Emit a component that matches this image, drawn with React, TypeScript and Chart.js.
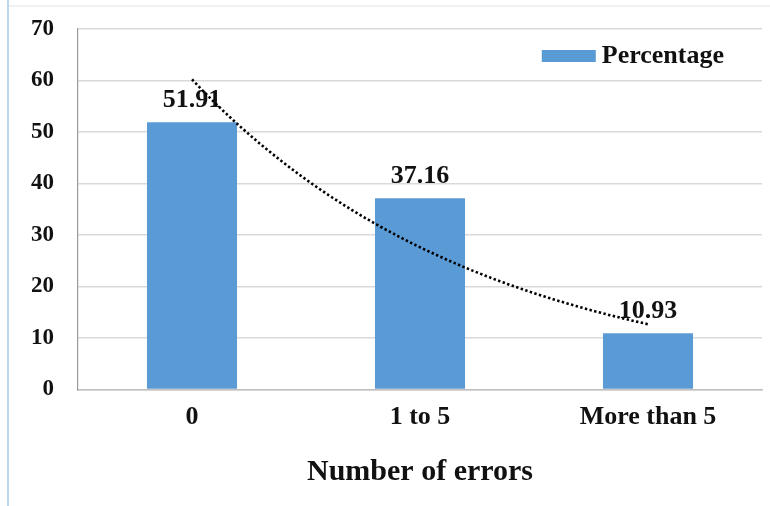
import React, { useEffect, useRef } from "react";
import { Chart, registerables } from "chart.js";

Chart.register(...registerables);

const categories: string[] = ["0", "1 to 5", "More than 5"];
const percentages: number[] = [51.91, 37.16, 10.93];
const seriesLabel = "Percentage";
const yTicks: number[] = [0, 10, 20, 30, 40, 50, 60, 70];
const xTitle = "Number of errors";

const FONT = "'Liberation Serif', 'Times New Roman', serif";
const BAR_COLOR = "#5B9BD5";

const backgroundPlugin = {
  id: "bgFrame",
  beforeDraw(chart: any) {
    const ctx = chart.ctx;
    ctx.save();
    ctx.fillStyle = "#ffffff";
    ctx.fillRect(0, 0, chart.width, chart.height);
    ctx.strokeStyle = "#EDEDED";
    ctx.lineWidth = 1.5;
    ctx.beginPath();
    ctx.moveTo(9, 6);
    ctx.lineTo(chart.width, 6);
    ctx.stroke();
    ctx.strokeStyle = "#BDD7EE";
    ctx.lineWidth = 2;
    ctx.beginPath();
    ctx.moveTo(8, 0);
    ctx.lineTo(8, chart.height);
    ctx.stroke();
    ctx.restore();
  },
};

const labelsPlugin = {
  id: "barValueLabels",
  afterDatasetsDraw(chart: any) {
    const ctx = chart.ctx;
    const meta = chart.getDatasetMeta(0);
    const data = chart.data.datasets[0].data as number[];
    ctx.save();
    ctx.font = `bold 26px ${FONT}`;
    ctx.fillStyle = "#111111";
    ctx.textAlign = "center";
    ctx.textBaseline = "alphabetic";
    meta.data.forEach((bar: any, i: number) => {
      ctx.fillText(data[i].toFixed(2), bar.x, bar.y - 15);
    });
    ctx.restore();
  },
};

const trendPlugin = {
  id: "expTrend",
  afterDraw(chart: any) {
    const data = chart.data.datasets[0].data as number[];
    const n = data.length;
    // exponential least-squares fit y = a * exp(b * x), x = 1..n
    let sx = 0, sy = 0, sxx = 0, sxy = 0;
    data.forEach((v, i) => {
      const x = i + 1;
      const ly = Math.log(v);
      sx += x; sy += ly; sxx += x * x; sxy += x * ly;
    });
    const b = (n * sxy - sx * sy) / (n * sxx - sx * sx);
    const lnA = (sy - b * sx) / n;
    const xs = chart.scales.x;
    const ys = chart.scales.y;
    const ctx = chart.ctx;
    ctx.save();
    ctx.strokeStyle = "#000000";
    ctx.lineWidth = 2.6;
    ctx.lineCap = "butt";
    ctx.setLineDash([2.4, 2.4]);
    ctx.beginPath();
    const steps = 120;
    for (let s = 0; s <= steps; s++) {
      const t = (s / steps) * (n - 1);
      const v = Math.exp(lnA + b * (t + 1));
      const px = xs.getPixelForValue(t);
      const py = ys.getPixelForValue(v);
      if (s === 0) ctx.moveTo(px, py);
      else ctx.lineTo(px, py);
    }
    ctx.stroke();
    ctx.restore();
  },
};

const legendPlugin = {
  id: "innerLegend",
  afterDraw(chart: any) {
    const ctx = chart.ctx;
    const area = chart.chartArea;
    const ds = chart.data.datasets[0];
    ctx.save();
    ctx.font = `bold 26px ${FONT}`;
    ctx.textBaseline = "middle";
    ctx.textAlign = "left";
    const text = ds.label as string;
    const w = ctx.measureText(text).width;
    const textRight = area.right - 38;
    const textLeft = textRight - w;
    const cy = area.top + 27;
    ctx.fillStyle = ds.backgroundColor as string;
    ctx.fillRect(textLeft - 60, cy - 6, 54, 12);
    ctx.fillStyle = "#111111";
    ctx.fillText(text, textLeft, cy);
    ctx.restore();
  },
};

export default function App() {
  const canvasRef = useRef<HTMLCanvasElement | null>(null);

  useEffect(() => {
    document.body.style.margin = "0";
    const canvas = canvasRef.current;
    if (!canvas) return;
    const chart = new Chart(canvas, {
      type: "bar",
      data: {
        labels: categories,
        datasets: [
          {
            label: seriesLabel,
            data: percentages,
            backgroundColor: BAR_COLOR,
            borderWidth: 0,
            barPercentage: 0.395,
            categoryPercentage: 1,
          },
        ],
      },
      options: {
        responsive: false,
        animation: false,
        devicePixelRatio: 1,
        layout: { padding: { top: 29, right: 8, left: 0, bottom: 0 } },
        plugins: {
          legend: { display: false },
          tooltip: { enabled: false },
          title: { display: false },
        },
        scales: {
          x: {
            offset: true,
            grid: { display: false, drawTicks: false },
            border: { display: true, color: "#BFBFBF", width: 1.5 },
            ticks: {
              color: "#111111",
              font: { family: FONT, size: 26, weight: "bold" },
              padding: 12,
              maxRotation: 0,
            },
            title: {
              display: true,
              text: xTitle,
              color: "#111111",
              font: { family: FONT, size: 30, weight: "bold" },
              padding: { top: 0, bottom: 16 },
            },
            afterFit(scale: any) {
              scale.height = 116.5;
            },
          },
          y: {
            min: 0,
            max: 70,
            afterBuildTicks(scale: any) {
              scale.ticks = yTicks.map((v) => ({ value: v }));
            },
            grid: { color: "#D9D9D9", lineWidth: 1.5, drawTicks: false },
            border: { display: true, color: "#9A9A9A", width: 1.2 },
            ticks: {
              color: "#111111",
              font: { family: FONT, size: 23, weight: "bold" },
              padding: 24,
            },
            afterFit(scale: any) {
              scale.width = 78;
              scale.paddingTop = 0;
              scale.paddingBottom = 0;
            },
          },
        },
      },
      plugins: [backgroundPlugin, labelsPlugin, trendPlugin, legendPlugin],
    });
    return () => chart.destroy();
  }, []);

  return (
    <div style={{ width: 770, height: 506 }}>
      <canvas ref={canvasRef} width={770} height={506} style={{ display: "block" }} />
    </div>
  );
}
